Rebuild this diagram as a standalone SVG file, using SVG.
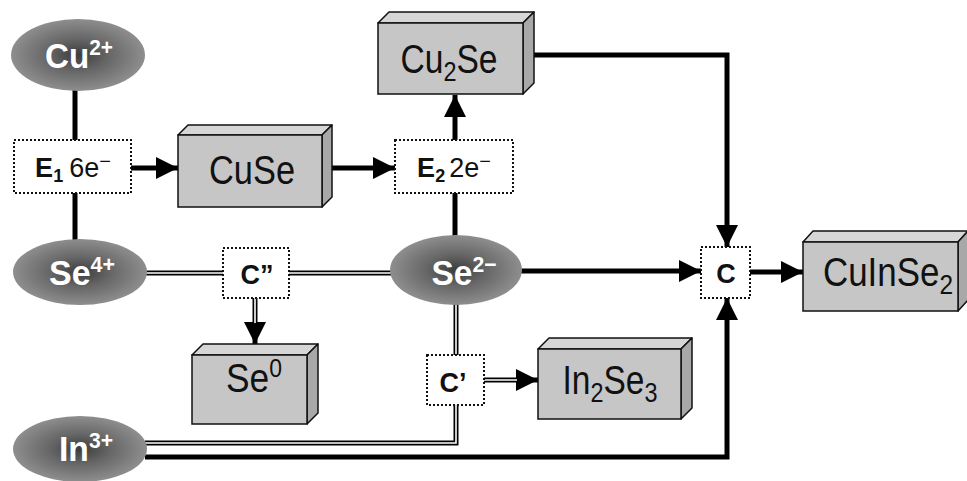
<svg xmlns="http://www.w3.org/2000/svg" width="967" height="481" viewBox="0 0 967 481">
<defs>
  <radialGradient id="ion" cx="0.5" cy="0.5" r="0.5">
    <stop offset="0" stop-color="#3c3c3c"/>
    <stop offset="0.45" stop-color="#666"/>
    <stop offset="1" stop-color="#8e8e8e"/>
  </radialGradient>
  <marker id="ah" markerUnits="userSpaceOnUse" markerWidth="24" markerHeight="24" refX="22" refY="12" orient="auto">
    <path d="M0,1 L22,12 L0,23 z" fill="#000"/>
  </marker>
</defs>
<style>
  .ion ellipse { fill: url(#ion); }
  .ion text { font-family: "Liberation Sans", Arial, sans-serif; font-weight: bold; fill: #fff; font-size: 35px; text-anchor: middle; }
  .box .front { fill: #c6c6c6; stroke: #111; stroke-width: 1.5; }
  .box .top { fill: #d6d6d6; stroke: #111; stroke-width: 1.5; stroke-linejoin: round; }
  .box .side { fill: #a8a8a8; stroke: #111; stroke-width: 1.5; stroke-linejoin: round; }
  .box text { font-family: "Liberation Sans", Arial, sans-serif; font-size: 40px; fill: #111; text-anchor: middle; }
  .step rect { fill: #fff; stroke: #111; stroke-width: 2; stroke-dasharray: 2 2; }
  .step text { font-family: "Liberation Sans", Arial, sans-serif; font-size: 27px; fill: #111; text-anchor: middle; }
  .b { font-weight: bold; }
  .thick { fill: none; stroke: #000; stroke-width: 5; }
  .dbl { fill: none; stroke: #000; stroke-width: 5; }
  .dblw { fill: none; stroke: #fff; stroke-width: 1.6; }
</style>

<g id="connectors">
  <line class="thick" x1="75" y1="90" x2="75" y2="140"/>
  <line class="thick" x1="75" y1="193" x2="75" y2="240"/>
  <line class="thick" x1="131" y1="168" x2="178" y2="168" marker-end="url(#ah)"/>
  <line class="thick" x1="332" y1="168" x2="395" y2="168" marker-end="url(#ah)"/>
  <line class="thick" x1="455" y1="140" x2="455" y2="95" marker-end="url(#ah)"/>
  <line class="thick" x1="455" y1="237" x2="455" y2="193"/>
  <polyline class="thick" points="530,55 727,55 727,247" marker-end="url(#ah)"/>
  <line class="thick" x1="521" y1="271" x2="701" y2="271" marker-end="url(#ah)"/>
  <line class="thick" x1="750" y1="272" x2="803" y2="272" marker-end="url(#ah)"/>
  <polyline class="thick" points="145,457 727,457 727,298" marker-end="url(#ah)"/>
  <line class="dbl" x1="146" y1="273" x2="223" y2="273"/>
  <line class="dblw" x1="146" y1="273" x2="223" y2="273"/>
  <line class="dbl" x1="289" y1="273" x2="392" y2="273"/>
  <line class="dblw" x1="289" y1="273" x2="392" y2="273"/>
  <line class="dbl" x1="255" y1="298" x2="255" y2="344" marker-end="url(#ah)"/>
  <line class="dblw" x1="255" y1="298" x2="255" y2="323"/>
  <line class="dbl" x1="456" y1="304" x2="456" y2="355"/>
  <line class="dblw" x1="456" y1="304" x2="456" y2="355"/>
  <line class="dbl" x1="484" y1="380" x2="538" y2="380" marker-end="url(#ah)"/>
  <line class="dblw" x1="484" y1="380" x2="517" y2="380"/>
  <polyline class="dbl" points="145,443 456,443 456,405"/>
  <polyline class="dblw" points="145,443 456,443 456,405"/>
</g>

<g id="cu2" class="ion">
  <ellipse cx="78" cy="55" rx="67" ry="36"/>
  <text x="79" y="68" textLength="68" lengthAdjust="spacingAndGlyphs">Cu<tspan font-size="22" dy="-13">2+</tspan></text>
</g>
<g id="se4" class="ion">
  <ellipse cx="80" cy="272" rx="67" ry="33"/>
  <text x="82" y="285" textLength="66" lengthAdjust="spacingAndGlyphs">Se<tspan font-size="22" dy="-13">4+</tspan></text>
</g>
<g id="se2" class="ion">
  <ellipse cx="456" cy="270" rx="66" ry="35"/>
  <text x="464" y="285" textLength="65" lengthAdjust="spacingAndGlyphs">Se<tspan font-size="22" dy="-13">2−</tspan></text>
</g>
<g id="in3" class="ion">
  <ellipse cx="80" cy="449" rx="67" ry="33"/>
  <text x="86" y="461" textLength="54" lengthAdjust="spacingAndGlyphs">In<tspan font-size="22" dy="-13">3+</tspan></text>
</g>

<g id="e1" class="step">
  <rect x="14" y="140" width="117" height="53"/>
  <text x="73" y="177"><tspan class="b">E</tspan><tspan class="b" font-size="18" dy="5">1</tspan><tspan dy="-5" dx="6">6e</tspan><tspan font-size="20" dy="-9">−</tspan></text>
</g>
<g id="e2" class="step">
  <rect x="395" y="140" width="118" height="53"/>
  <text x="454" y="177"><tspan class="b">E</tspan><tspan class="b" font-size="18" dy="5">2</tspan><tspan dy="-5" dx="4">2e</tspan><tspan font-size="20" dy="-9">−</tspan></text>
</g>
<g id="cpp" class="step">
  <rect x="223" y="248" width="66" height="50"/>
  <text x="257" y="284" class="b" font-size="28">C”</text>
</g>
<g id="cp" class="step">
  <rect x="427" y="355" width="57" height="50"/>
  <text x="453" y="392" class="b" font-size="28">C’</text>
</g>
<g id="c" class="step">
  <rect x="701" y="247" width="49" height="51"/>
  <text x="726" y="283" class="b" font-size="28">C</text>
</g>

<g id="cuse" class="box">
  <polygon class="top" points="178,135 188,125 332,125 322,135"/>
  <polygon class="side" points="322,135 332,125 332,197 322,207"/>
  <rect class="front" x="178" y="135" width="144" height="72"/>
  <text x="252" y="184" textLength="86" lengthAdjust="spacingAndGlyphs">CuSe</text>
</g>
<g id="cu2se" class="box">
  <polygon class="top" points="378,23 389,12 534,12 523,23"/>
  <polygon class="side" points="523,23 534,12 534,83 523,94"/>
  <rect class="front" x="378" y="23" width="145" height="71"/>
  <text x="449" y="73" textLength="97" lengthAdjust="spacingAndGlyphs">Cu<tspan font-size="28" dy="8">2</tspan><tspan dy="-8">Se</tspan></text>
</g>
<g id="se0" class="box">
  <polygon class="top" points="192,355 203,344 318,344 307,355"/>
  <polygon class="side" points="307,355 318,344 318,413 307,424"/>
  <rect class="front" x="192" y="355" width="115" height="69"/>
  <text x="254" y="392" textLength="56" lengthAdjust="spacingAndGlyphs">Se<tspan font-size="26" dy="-15">0</tspan></text>
</g>
<g id="in2se3" class="box">
  <polygon class="top" points="538,349 549,338 692,338 681,349"/>
  <polygon class="side" points="681,349 692,338 692,408 681,419"/>
  <rect class="front" x="538" y="349" width="143" height="70"/>
  <text x="610" y="394" textLength="95" lengthAdjust="spacingAndGlyphs">In<tspan font-size="28" dy="8">2</tspan><tspan dy="-8">Se</tspan><tspan font-size="28" dy="8">3</tspan></text>
</g>
<g id="cuinse2" class="box">
  <polygon class="top" points="803,242 813,231 968,231 958,242"/>
  <polygon class="side" points="958,242 968,231 968,300 958,311"/>
  <rect class="front" x="803" y="242" width="155" height="69"/>
  <text x="888" y="286" textLength="130" lengthAdjust="spacingAndGlyphs">CuInSe<tspan font-size="28" dy="8">2</tspan></text>
</g>
</svg>
